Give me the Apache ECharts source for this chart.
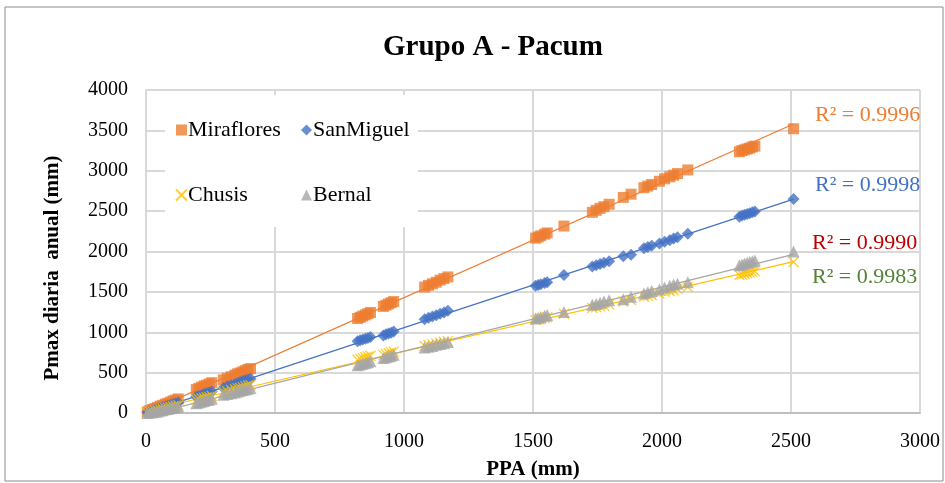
<!DOCTYPE html>
<html>
<head>
<meta charset="utf-8">
<script src="https://cdn.jsdelivr.net/npm/echarts@6/dist/echarts.min.js"></script>
<style>
html,body{margin:0;padding:0;background:#fff;}
#c{width:945px;height:483px;}
</style>
</head>
<body>
<div id="c"></div>
<script>
var seriesNames = ['Miraflores', 'SanMiguel', 'Chusis', 'Bernal'];
var ppa = [5,15,25,35,45,55,65,75,85,95,105,115,125,
  195,205,215,225,235,245,255,
  300,315,330,345,355,365,375,385,395,405,
  820,830,840,850,860,870,
  920,930,940,950,960,
  1080,1095,1110,1125,1140,1155,1170,
  1510,1520,1530,1545,1555,
  1620,
  1730,1745,1760,1775,1795,
  1850,1880,
  1930,1945,1960,1990,2010,2030,2045,2060,
  2100,
  2300,2310,2320,2330,2340,2350,2360,
  2510];
var miraflores = [15,30,45,55,70,85,95,110,120,135,150,160,175,
  290,305,320,335,345,360,375,
  410,430,450,470,485,495,510,525,540,550,
  1170,1185,1200,1215,1230,1245,
  1320,1335,1350,1365,1380,
  1560,1580,1600,1620,1645,1665,1685,
  2165,2180,2195,2215,2230,
  2315,
  2485,2510,2535,2555,2585,
  2670,2710,
  2790,2810,2830,2870,2900,2925,2945,2965,
  3010,
  3235,3250,3260,3270,3280,3295,3305,
  3520];
var sanMiguel = [10,20,30,40,50,60,70,80,90,100,110,120,130,
  200,210,220,235,245,255,265,
  310,330,345,360,370,385,395,405,415,425,
  890,900,910,920,930,940,
  960,975,985,995,1010,
  1160,1180,1195,1210,1230,1245,1265,
  1575,1585,1595,1610,1620,
  1710,
  1815,1830,1845,1860,1880,
  1940,1960,
  2040,2055,2070,2100,2120,2140,2160,2175,
  2220,
  2430,2445,2455,2465,2475,2485,2495,
  2650];
var chusis = [5,15,20,30,35,45,50,60,65,75,80,90,95,
  160,170,180,185,195,200,210,
  260,270,285,295,305,310,320,330,340,345,
  660,670,680,690,700,710,
  720,730,740,750,760,
  830,840,850,860,870,880,890,
  1150,1160,1165,1175,1185,
  1230,
  1300,1310,1320,1330,1345,
  1380,1400,
  1440,1450,1460,1480,1500,1510,1520,1535,
  1560,
  1710,1715,1725,1730,1740,1745,1755,
  1870];
var bernal = [0,5,10,15,20,30,35,45,50,60,65,75,80,
  120,130,140,150,160,165,175,
  225,235,245,255,265,275,285,290,300,310,
  590,600,610,620,630,640,
  680,690,700,710,720,
  810,820,830,845,855,865,880,
  1170,1180,1190,1205,1215,
  1250,
  1340,1350,1365,1380,1395,
  1410,1440,
  1480,1495,1510,1530,1555,1575,1590,1600,
  1620,
  1830,1840,1850,1860,1870,1880,1890,
  2000];
var r2Labels = ['R² = 0.9996', 'R² = 0.9998', 'R² = 0.9990', 'R² = 0.9983'];
var xTicks = [0, 500, 1000, 1500, 2000, 2500, 3000];
var yTicks = [0, 500, 1000, 1500, 2000, 2500, 3000, 3500, 4000];

var colors = ['#ED7D31', '#4472C4', '#FFC000', '#A5A5A5'];
var r2Colors = ['#ED7D31', '#4472C4', '#C00000', '#548235'];
var symbols = ['rect', 'diamond', 'path://M0,0L10,10M10,0L0,10', 'triangle'];
var allY = [miraflores, sanMiguel, chusis, bernal];

function regress(xs, ys) {
  var n = xs.length, sx = 0, sy = 0, sxx = 0, sxy = 0;
  for (var i = 0; i < n; i++) { sx += xs[i]; sy += ys[i]; sxx += xs[i]*xs[i]; sxy += xs[i]*ys[i]; }
  var b = (n*sxy - sx*sy) / (n*sxx - sx*sx);
  var a = (sy - b*sx) / n;
  return {a: a, b: b};
}

var series = [];
var xmin = Math.min.apply(null, ppa), xmax = Math.max.apply(null, ppa);
for (var s = 0; s < 4; s++) {
  var pts = ppa.map(function (x, i) { return [x, allY[s][i]]; });
  var isX = s === 2;
  series.push({
    name: seriesNames[s],
    type: 'scatter',
    data: pts,
    symbol: symbols[s],
    symbolSize: isX ? 10 : (s === 0 ? 11 : 12),
    itemStyle: isX ? {color: 'rgba(0,0,0,0)', borderColor: colors[s], borderWidth: 1.3} : {color: colors[s]},
    z: 3 + s
  });
  var r = regress(ppa, allY[s]);
  series.push({
    name: seriesNames[s] + ' trend',
    type: 'line',
    data: [[xmin, r.a + r.b*xmin], [xmax, r.a + r.b*xmax]],
    symbol: 'none',
    lineStyle: {color: colors[s], width: 1.2},
    silent: true,
    z: 2
  });
}

var chart = echarts.init(document.getElementById('c'), null, {renderer: 'canvas'});
var serif = '"Liberation Serif", "Times New Roman", serif';
function plain(v) { return String(v); }
chart.setOption({
  animation: false,
  backgroundColor: '#fff',
  textStyle: {fontFamily: serif},
  title: {
    text: 'Grupo A - Pacum',
    left: 378,
    top: 28,
    textStyle: {fontFamily: serif, fontWeight: 'bold', fontSize: 29, color: '#000'}
  },
  grid: {left: 146, right: 25, top: 90, bottom: 70, containLabel: false, outerBoundsMode: 'none'},
  xAxis: {
    type: 'value', min: xTicks[0], max: xTicks[xTicks.length-1], interval: 500,
    name: 'PPA (mm)', nameLocation: 'middle', nameGap: 46,
    nameTextStyle: {fontFamily: serif, fontWeight: 'bold', fontSize: 21, color: '#000'},
    axisLine: {show: true, lineStyle: {color: '#BFBFBF', width: 2}},
    axisTick: {show: false},
    axisLabel: {fontFamily: serif, fontSize: 20, color: '#000', margin: 19, formatter: plain},
    splitLine: {show: true, lineStyle: {color: '#D9D9D9', width: 2}}
  },
  yAxis: {
    type: 'value', min: yTicks[0], max: yTicks[yTicks.length-1], interval: 500,
    axisLine: {show: true, lineStyle: {color: '#D9D9D9', width: 2}},
    axisTick: {show: false},
    axisLabel: {fontFamily: serif, fontSize: 20, color: '#000', margin: 18, formatter: plain},
    splitLine: {show: true, lineStyle: {color: '#D9D9D9', width: 2}}
  },
  legend: [{
    data: [seriesNames[0], seriesNames[2]],
    orient: 'vertical', left: 170, top: 114, itemGap: 43,
    itemWidth: 11, itemHeight: 11, z: 20,
    textStyle: {fontFamily: serif, fontSize: 22, color: '#000', padding: [0,0,0,-4]}
  }, {
    data: [seriesNames[1], seriesNames[3]],
    orient: 'vertical', left: 296, top: 114, itemGap: 43,
    itemWidth: 11, itemHeight: 11, z: 20,
    textStyle: {fontFamily: serif, fontSize: 22, color: '#000', padding: [0,0,0,-4]}
  }],
  graphic: [
    {type: 'rect', shape: {x: 5, y: 7, width: 938, height: 474}, style: {fill: 'none', stroke: '#8C8C8C', lineWidth: 1}, z: 1, silent: true},
    {type: 'rect', shape: {x: 165, y: 95, width: 253, height: 132}, style: {fill: '#fff'}, z: 10, silent: true},
    {type: 'text', x: 53, y: 268, rotation: Math.PI/2, z: 10,
     style: {text: 'Pmax diaria  anual (mm)', fontFamily: serif, fontWeight: 'bold', fontSize: 21, fill: '#000', align: 'center', verticalAlign: 'middle'}},
    {type: 'text', x: 815, y: 115, z: 10, style: {text: r2Labels[0], fontFamily: serif, fontSize: 22, fill: r2Colors[0], verticalAlign: 'middle'}},
    {type: 'text', x: 815, y: 185, z: 10, style: {text: r2Labels[1], fontFamily: serif, fontSize: 22, fill: r2Colors[1], verticalAlign: 'middle'}},
    {type: 'text', x: 812, y: 243, z: 10, style: {text: r2Labels[2], fontFamily: serif, fontSize: 22, fill: r2Colors[2], verticalAlign: 'middle'}},
    {type: 'text', x: 812, y: 277, z: 10, style: {text: r2Labels[3], fontFamily: serif, fontSize: 22, fill: r2Colors[3], verticalAlign: 'middle'}}
  ],
  series: series
});
</script>
</body>
</html>
